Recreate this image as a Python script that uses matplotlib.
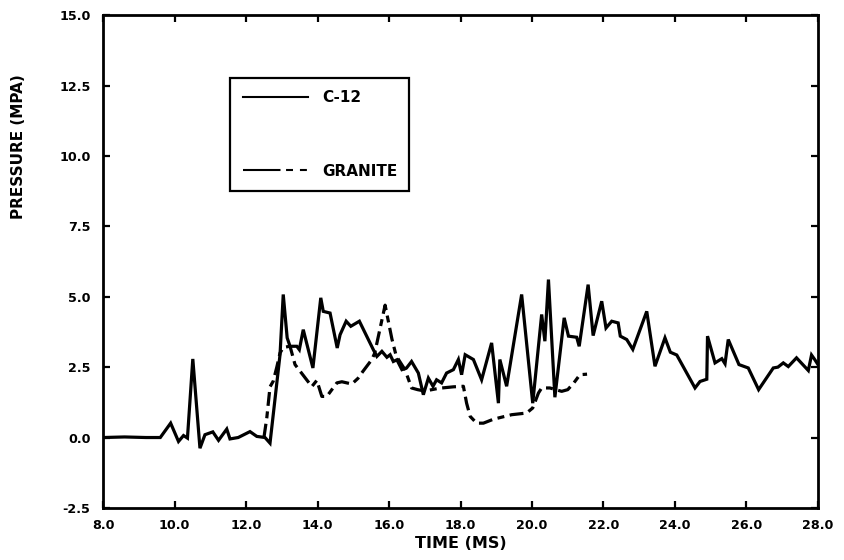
import matplotlib
matplotlib.use("Agg")
import matplotlib.pyplot as plt
from matplotlib.ticker import FuncFormatter, FixedLocator
from matplotlib.lines import Line2D

plt.rcParams["lines.scale_dashes"] = False

# ---- data ----
c12_t = [8.0, 8.6, 9.2, 9.6, 9.89, 10.11, 10.25, 10.36, 10.51, 10.71, 10.85, 11.07,
         11.23, 11.46, 11.55, 11.78, 12.11, 12.30, 12.53, 12.67, 12.95, 13.04, 13.15,
         13.23, 13.42, 13.49, 13.60, 13.87, 14.09, 14.16, 14.35, 14.55, 14.63, 14.80,
         14.93, 15.17, 15.56, 15.66, 15.80, 15.94, 16.03, 16.12, 16.22, 16.36, 16.49,
         16.63, 16.82, 16.96, 17.10, 17.23, 17.33, 17.47, 17.61, 17.80, 17.94, 18.03,
         18.13, 18.36, 18.59, 18.87, 19.06, 19.10, 19.29, 19.71, 20.02, 20.27, 20.36,
         20.46, 20.64, 20.90, 21.02, 21.25, 21.32, 21.57, 21.71, 21.95, 22.07, 22.23,
         22.41, 22.47, 22.65, 22.82, 23.21, 23.44, 23.72, 23.87, 24.05, 24.56, 24.70,
         24.89, 24.91, 25.12, 25.31, 25.40, 25.49, 25.79, 26.05, 26.34, 26.75, 26.88,
         27.03, 27.17, 27.40, 27.73, 27.82, 27.92, 28.0]
c12_v = [0.0, 0.02, 0.0, 0.0, 0.51, -0.14, 0.07, -0.02, 2.79, -0.38, 0.10, 0.20,
         -0.10, 0.30, -0.05, 0.0, 0.21, 0.04, 0.0, -0.20, 2.94, 5.08, 3.54,
         3.24, 3.24, 3.12, 3.83, 2.47, 4.96, 4.48, 4.42, 3.18, 3.65, 4.13,
         3.95, 4.13, 3.12, 2.88, 3.06, 2.85, 2.94, 2.70, 2.76, 2.41, 2.47,
         2.70, 2.29, 1.52, 2.11, 1.82, 2.05, 1.94, 2.29, 2.41, 2.77, 2.23,
         2.94, 2.77, 2.05, 3.36, 1.22, 2.77, 1.82, 5.08, 1.22, 4.37, 3.42,
         5.61, 1.43, 4.25, 3.60, 3.56, 3.24, 5.43, 3.62, 4.84, 3.89, 4.13,
         4.07, 3.60, 3.48, 3.13, 4.48, 2.53, 3.54, 3.03, 2.93, 1.76, 1.99,
         2.07, 3.60, 2.65, 2.80, 2.62, 3.48, 2.59, 2.47, 1.70, 2.47, 2.50,
         2.65, 2.52, 2.83, 2.38, 2.93, 2.75, 2.59]

granite_t = [12.50, 12.58, 12.67, 12.76, 12.86, 12.95, 13.04, 13.23, 13.37, 13.84,
             13.98, 14.12, 14.26, 14.54, 14.68, 14.96, 15.13, 15.27, 15.52, 15.60,
             15.89, 16.08, 16.20, 16.45, 16.63, 16.80, 17.0, 17.4, 17.8, 18.08,
             18.17, 18.27, 18.45, 18.64, 18.92, 19.43, 19.85, 20.02, 20.18, 20.27,
             20.50, 20.83, 21.0, 21.17, 21.34, 21.54]
granite_v = [0.0, 0.7, 1.8, 2.0, 2.5, 3.0, 3.2, 3.24, 2.59, 1.81,
             2.03, 1.46, 1.46, 1.94, 1.98, 1.90, 2.10, 2.35, 2.77, 3.0,
             4.70, 3.50, 2.90, 2.40, 1.76, 1.70, 1.65, 1.75, 1.80, 1.82,
             1.22, 0.75, 0.51, 0.51, 0.65, 0.81, 0.87, 1.05, 1.58, 1.76,
             1.76, 1.64, 1.70, 1.94, 2.23, 2.25]

x_ticks = [8, 10, 12, 14, 16, 18, 20, 22, 24, 26, 28]
y_ticks = [-2.5, 0.0, 2.5, 5.0, 7.5, 10.0, 12.5, 15.0]
series_labels = ["C-12", "GRANITE"]

fig = plt.figure(figsize=(8.45, 5.6), dpi=100)
ax = fig.add_axes([0.122, 0.093, 0.846, 0.880])

ax.plot(c12_t, c12_v, color="black", lw=2.3, solid_joinstyle="miter")
ax.plot(granite_t, granite_v, color="black", lw=2.3,
        linestyle=(0, (10, 4, 5, 4)), dash_capstyle="butt")

ax.set_xlim(8, 28)
ax.set_ylim(-2.5, 15)
ax.xaxis.set_major_locator(FixedLocator(x_ticks))
ax.yaxis.set_major_locator(FixedLocator(y_ticks))
fmt = FuncFormatter(lambda v, p: ("%.1f" % v).replace("\u2212", "-"))
ax.xaxis.set_major_formatter(fmt)
ax.yaxis.set_major_formatter(fmt)

for s in ax.spines.values():
    s.set_linewidth(2.0)
ax.tick_params(direction="in", length=5, width=1.6, top=True, right=True,
               labelsize=9.2)
ax.tick_params(axis="x", pad=8)
ax.tick_params(axis="y", pad=9)
for lbl in ax.get_xticklabels() + ax.get_yticklabels():
    lbl.set_fontweight("bold")

ax.set_xlabel("TIME (MS)", fontsize=11.5, fontweight="bold", labelpad=3)
ax.set_ylabel("PRESSURE (MPA)", fontsize=11, fontweight="bold")
ax.yaxis.set_label_coords(-0.108, 0.733)

handles = [Line2D([], [], color="black", lw=1.5),
           Line2D([], [], color="black", lw=1.5,
                  linestyle=(0, (27, 4, 5, 5, 5, 50)))]
leg = ax.legend(handles, series_labels, loc="upper left",
                bbox_to_anchor=(0.178, 0.873), frameon=True, fancybox=False,
                edgecolor="black", framealpha=1, labelspacing=3.84,
                handlelength=4.3, handletextpad=0.9, borderpad=0.8,
                borderaxespad=0, prop={"weight": "bold", "size": 11})
leg.get_frame().set_linewidth(1.6)

fig.savefig("out.png", dpi=100)
